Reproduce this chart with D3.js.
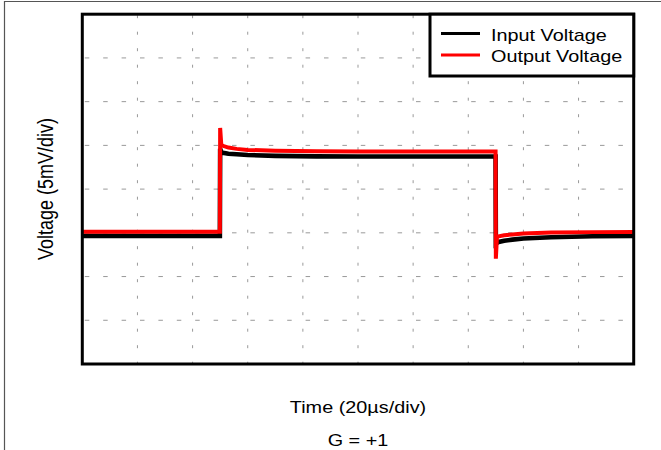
<!DOCTYPE html>
<html>
<head>
<meta charset="utf-8">
<script src="https://cdn.jsdelivr.net/npm/d3@7"></script>
<style>
  html, body { margin: 0; padding: 0; background: #fff; }
  svg { display: block; }
</style>
</head>
<body>
<svg id="chart" width="661" height="450"></svg>
<script>
// ---- Data (time in µs, voltage in mV relative to baseline gridline) ----
const timeUs = [0, 49.9, 50, 50.4, 51, 53, 56, 60, 70, 85, 100, 149.9, 150, 150.4, 151, 153, 156, 160, 170, 185, 200];
const inputVoltage  = [-0.35, -0.35, 9.6, 9.25, 9.15, 9.05, 8.98, 8.9, 8.8, 8.74, 8.72, 8.72, -1.25, -1.15, -1.05, -0.9, -0.78, -0.65, -0.5, -0.4, -0.37];
const outputVoltage = [0.12, 0.12, 12.0, 10.1, 9.95, 9.75, 9.6, 9.48, 9.38, 9.32, 9.3, 9.3, -2.95, -0.5, -0.4, -0.28, -0.18, -0.08, 0.03, 0.08, 0.1];
const seriesNames = ["Input Voltage", "Output Voltage"];
const seriesColors = ["#000000", "#ff0000"];
const xTicks = [0, 20, 40, 60, 80, 100, 120, 140, 160, 180, 200];
const yTicks = [-15, -10, -5, 0, 5, 10, 15, 20, 25];
const xLabel = "Time (20µs/div)";
const yLabel = "Voltage (5mV/div)";
const caption = "G = +1";

const svg = d3.select("#chart");
const font = "'Liberation Sans', Arial, sans-serif";
const stretch = 1.24;

// outer frame
svg.append("path").attr("d", "M4.5,450 V1.5 H661").attr("fill", "none")
  .attr("stroke", "#555").attr("stroke-width", 1.2);

const plot = { left: 82.3, right: 633.7, top: 14.2, bottom: 364 };
const x = d3.scaleLinear().domain([0, 200]).range([plot.left, plot.right]);
const y = d3.scaleLinear().domain([-15, 25]).range([plot.bottom, plot.top]);

// grid
const grid = svg.append("g");
grid.selectAll("line.v").data(xTicks.slice(1, -1)).enter().append("line")
  .attr("x1", d => x(d)).attr("x2", d => x(d))
  .attr("y1", plot.top).attr("y2", plot.bottom)
  .attr("stroke", "#999").attr("stroke-width", 1)
  .attr("stroke-dasharray", "3,13.5").attr("stroke-dashoffset", -1);
grid.selectAll("line.h").data(yTicks.slice(1, -1)).enter().append("line")
  .attr("x1", plot.left).attr("x2", plot.right)
  .attr("y1", d => y(d)).attr("y2", d => y(d))
  .attr("stroke", "#999").attr("stroke-width", 1)
  .attr("stroke-dasharray", "4.5,13.9").attr("stroke-dashoffset", -2.5);

// traces
const line = d3.line().x(d => x(d[0])).y(d => y(d[1]));
const seriesData = [inputVoltage, outputVoltage];
seriesData.forEach((vals, i) => {
  svg.append("path")
    .datum(timeUs.map((t, k) => [t, vals[k]]))
    .attr("d", line)
    .attr("fill", "none")
    .attr("stroke", seriesColors[i])
    .attr("stroke-width", i === 0 ? 4.6 : 4)
    .attr("stroke-linejoin", "miter");
});

// plot frame
svg.append("rect")
  .attr("x", plot.left).attr("y", plot.top)
  .attr("width", plot.right - plot.left).attr("height", plot.bottom - plot.top)
  .attr("fill", "none").attr("stroke", "#000").attr("stroke-width", 3);

// legend
const lg = svg.append("g");
lg.append("rect").attr("x", 430).attr("y", plot.top)
  .attr("width", plot.right - 430).attr("height", 76 - plot.top)
  .attr("fill", "#fff").attr("stroke", "#000").attr("stroke-width", 3);
seriesNames.forEach((name, i) => {
  const ly = 33.5 + i * 21.5;
  lg.append("line").attr("x1", 441).attr("x2", 480).attr("y1", ly).attr("y2", ly)
    .attr("stroke", seriesColors[i]).attr("stroke-width", 3);
  lg.append("text")
    .attr("transform", `translate(491,${ly + 7}) scale(${stretch},1)`)
    .attr("font-family", font).attr("font-size", 16).attr("fill", "#000")
    .text(name);
});

// axis labels
svg.append("text")
  .attr("transform", `translate(358,413) scale(${stretch},1)`)
  .attr("text-anchor", "middle").attr("font-family", font).attr("font-size", 16)
  .text(xLabel);
svg.append("text")
  .attr("transform", `translate(358,446) scale(${stretch},1)`)
  .attr("text-anchor", "middle").attr("font-family", font).attr("font-size", 16)
  .text(caption);
svg.append("text")
  .attr("transform", `translate(53,189) scale(${stretch},1) rotate(-90)`)
  .attr("text-anchor", "middle").attr("font-family", font).attr("font-size", 18)
  .text(yLabel);
</script>
</body>
</html>
